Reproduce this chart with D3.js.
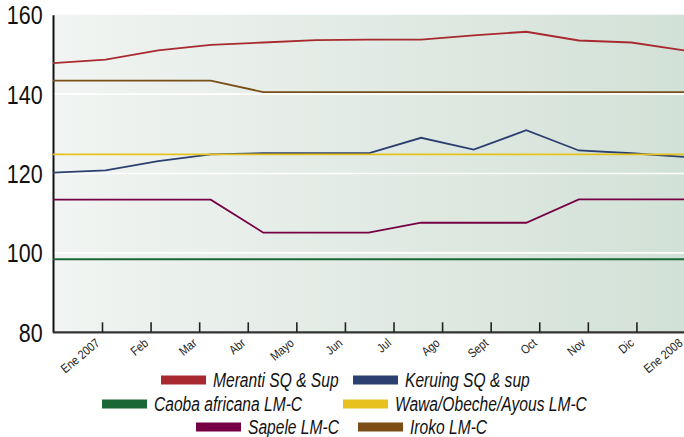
<!DOCTYPE html>
<html>
<head>
<meta charset="utf-8">
<script src="https://cdn.jsdelivr.net/npm/d3@7.9.0/dist/d3.min.js"></script>
<style>
  body { margin: 0; background: #fff; }
  svg { display: block; font-family: 'Liberation Sans Narrow', 'Arial Narrow', 'Liberation Sans', sans-serif; }
</style>
</head>
<body>
<svg width="684" height="437"></svg>
<script>
const months = ['Ene 2007', 'Feb', 'Mar', 'Abr', 'Mayo', 'Jun', 'Jul', 'Ago', 'Sept', 'Oct', 'Nov', 'Dic', 'Ene 2008'];

const meranti = [147.8, 148.7, 151.0, 152.4, 153.0, 153.6, 153.7, 153.7, 154.8, 155.7, 153.5, 153.0, 151.0];
const keruing = [120.2, 120.8, 123.1, 124.8, 125.1, 125.1, 125.1, 129.0, 126.0, 130.9, 125.8, 125.1, 124.2];
const caoba = [98.4, 98.4, 98.4, 98.4, 98.4, 98.4, 98.4, 98.4, 98.4, 98.4, 98.4, 98.4, 98.4];
const wawa = [124.8, 124.8, 124.8, 124.8, 124.8, 124.8, 124.8, 124.8, 124.8, 124.8, 124.8, 124.8, 124.8];
const sapele = [113.4, 113.4, 113.4, 113.4, 105.1, 105.1, 105.1, 107.6, 107.6, 107.6, 113.5, 113.5, 113.5];
const iroko = [143.4, 143.4, 143.4, 143.4, 140.5, 140.5, 140.5, 140.5, 140.5, 140.5, 140.5, 140.5, 140.5];

const yTicks = [80, 100, 120, 140, 160];

const series = [
  { name: 'Meranti SQ & Sup', values: meranti, color: '#a82a30' },
  { name: 'Keruing SQ & sup', values: keruing, color: '#2b3f70' },
  { name: 'Caoba africana LM-C', values: caoba, color: '#1b6836' },
  { name: 'Wawa/Obeche/Ayous LM-C', values: wawa, color: '#e6c21e' },
  { name: 'Sapele LM-C', values: sapele, color: '#760044' },
  { name: 'Iroko LM-C', values: iroko, color: '#7a4e16' },
];

// legend placement (x of swatch, row)
const legendPos = [[161, 0], [353, 0], [102, 1], [343, 1], [196, 2], [358, 2]];

const svg = d3.select('svg');
const plotL = 53, plotR = 684, plotT = 14.7, plotB = 332.3;

const x = d3.scalePoint().domain(d3.range(months.length)).range([plotL, plotR]);
const xAxisScale = d3.scalePoint().domain(months).range([102, 685]);
const y = d3.scaleLinear().domain([80, 160]).range([plotB, plotT]);

const defs = svg.append('defs');
const grad = defs.append('linearGradient').attr('id', 'bg').attr('x1', 0).attr('x2', 1).attr('y1', 0).attr('y2', 0);
grad.append('stop').attr('offset', 0).attr('stop-color', '#f1f4f2');
grad.append('stop').attr('offset', 1).attr('stop-color', '#d2e1d7');

svg.append('rect')
  .attr('x', plotL).attr('y', plotT)
  .attr('width', plotR - plotL).attr('height', plotB - plotT)
  .attr('fill', 'url(#bg)');

// white gridlines
svg.append('g')
  .selectAll('line')
  .data(yTicks.filter((d) => d > 80 && d < 160))
  .join('line')
  .attr('x1', plotL).attr('x2', plotR)
  .attr('y1', (d) => y(d)).attr('y2', (d) => y(d))
  .attr('stroke', '#fff').attr('stroke-width', 1.6);

// y axis (condensed look via horizontal scale)
const yAxis = svg.append('g')
  .attr('transform', `translate(${plotL},0)`)
  .call(d3.axisLeft(y).tickValues(yTicks).tickSize(0));
yAxis.select('.domain').attr('stroke', '#111').attr('stroke-width', 2);
yAxis.selectAll('text')
  .attr('font-size', 25)
  .attr('fill', '#111')
  .attr('x', -12)
  .attr('dy', '0.36em')
  .attr('transform', 'scale(0.86,1)');

// x axis, ticks point up into the plot
const xAxis = svg.append('g')
  .attr('transform', `translate(0,${plotB})`)
  .call(d3.axisBottom(xAxisScale).tickSize(-10).tickSizeOuter(0));
xAxis.select('.domain').attr('d', `M${plotL},0H${plotR}`).attr('stroke', '#333').attr('stroke-width', 2.2);
xAxis.selectAll('.tick line').attr('stroke', '#222').attr('stroke-width', 1.6);
xAxis.selectAll('.tick text')
  .attr('font-size', 12.5)
  .attr('fill', '#222')
  .attr('text-anchor', 'end')
  .attr('dy', 0)
  .attr('y', 0)
  .attr('transform', 'translate(-2,12) rotate(-40) scale(0.86,1)');

// lines
const line = d3.line().x((d, i) => x(i)).y((d) => y(d));
svg.append('g')
  .selectAll('path')
  .data(series)
  .join('path')
  .attr('d', (d) => line(d.values))
  .attr('fill', 'none')
  .attr('stroke', (d) => d.color)
  .attr('stroke-width', 1.8);

// legend
const rowY = [380, 404, 427];
const legend = svg.append('g');
series.forEach((s, i) => {
  const [lx, row] = legendPos[i];
  const g = legend.append('g').attr('transform', `translate(${lx},${rowY[row]})`);
  g.append('rect').attr('x', 0).attr('y', -4.5).attr('width', 45).attr('height', 9).attr('fill', s.color);
  g.append('text')
    .attr('transform', 'translate(52,0) scale(0.8,1)')
    .attr('dy', '0.36em')
    .attr('font-size', 19.5)
    .attr('font-style', 'italic')
    .attr('fill', '#111')
    .text(s.name);
});
</script>
</body>
</html>
